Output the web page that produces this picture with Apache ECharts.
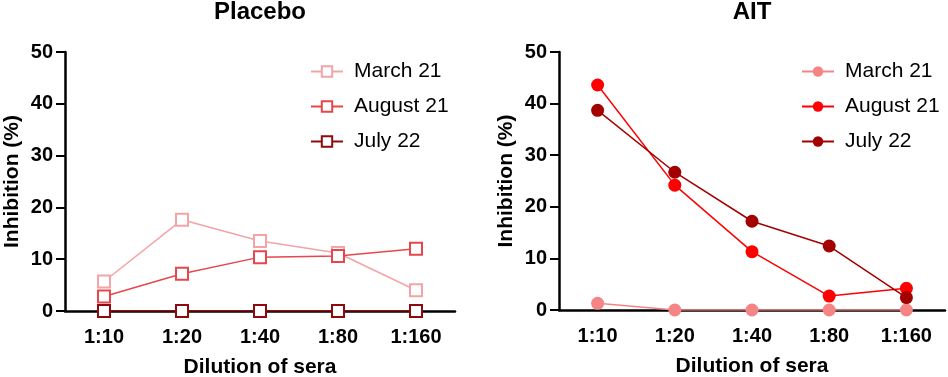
<!DOCTYPE html>
<html>
<head>
<meta charset="utf-8">
<script src="https://cdn.jsdelivr.net/npm/echarts@6/dist/echarts.min.js"></script>
<style>
  html, body { margin: 0; padding: 0; background: #fff; }
  #chart { width: 948px; height: 377px; }
</style>
</head>
<body>
<div id="chart"></div>
<script>
var dilutions = ['1:10', '1:20', '1:40', '1:80', '1:160'];
var seriesNames = ['March 21', 'August 21', 'July 22'];

var placeboMarch21 = [5.7, 17.6, 13.5, 11.2, 4.0];
var placeboAugust21 = [2.8, 7.2, 10.4, 10.6, 12.0];
var placeboJuly22 = [0, 0, 0, 0, 0];

var aitMarch21 = [1.3, 0, 0, 0, 0];
var aitAugust21 = [43.6, 24.2, 11.3, 2.7, 4.2];
var aitJuly22 = [38.7, 26.7, 17.2, 12.4, 2.4];

var placeboColors = ['#f4a3a6', '#e8464d', '#8e0a0f'];
var aitColors = ['#f58484', '#ff0000', '#a30000'];

var fontFam = 'Liberation Sans, Arial, sans-serif';

function xAx(gi) {
	return {
		gridIndex: gi,
		type: 'category',
		data: dilutions,
		boundaryGap: true,
		name: 'Dilution of sera',
		nameLocation: 'middle',
		nameGap: 46,
		nameTextStyle: { fontSize: 21, fontWeight: 'bold', color: '#000', fontFamily: fontFam },
		axisLine: { lineStyle: { color: '#000', width: 2.5 } },
		axisTick: { alignWithLabel: true, length: 9, lineStyle: { color: '#000', width: 2 } },
		axisLabel: { fontSize: 20, fontWeight: 'bold', color: '#000', margin: 16, fontFamily: fontFam },
		splitLine: { show: false }
	};
}

function yAx(gi) {
	return {
		gridIndex: gi,
		type: 'value',
		min: 0,
		max: 50,
		interval: 10,
		name: 'Inhibition (%)',
		nameLocation: 'middle',
		nameGap: 42,
		nameTextStyle: { fontSize: 21, fontWeight: 'bold', color: '#000', fontFamily: fontFam },
		axisLine: { show: true, lineStyle: { color: '#000', width: 2.5 } },
		axisTick: { show: true, length: 9, lineStyle: { color: '#000', width: 2 } },
		axisLabel: { fontSize: 20, fontWeight: 'bold', color: '#000', margin: 12, fontFamily: fontFam },
		splitLine: { show: false }
	};
}

function mkSeries(name, data, color, gi, symbol) {
	return {
		name: name,
		type: 'line',
		xAxisIndex: gi,
		yAxisIndex: gi,
		data: data,
		symbol: symbol,
		symbolSize: symbol === 'emptyRect' ? 12 : 13,
		showAllSymbol: true,
		lineStyle: { color: color, width: 1.5 },
		itemStyle: { color: color, borderColor: color, borderWidth: symbol === 'emptyRect' ? 2.4 : 0 }
	};
}

var legendText = { fontSize: 21, color: '#000', fontFamily: fontFam, padding: [0, 0, 0, 6] };

var chart = echarts.init(document.getElementById('chart'));
chart.setOption({
	animation: false,
	backgroundColor: '#fff',
	title: [
		{ text: 'Placebo', left: 260, top: 0, padding: 0, textAlign: 'center',
		  textStyle: { fontSize: 24, fontWeight: 'bold', color: '#000', fontFamily: fontFam } },
		{ text: 'AIT', left: 752, top: 0, padding: 0, textAlign: 'center',
		  textStyle: { fontSize: 24, fontWeight: 'bold', color: '#000', fontFamily: fontFam } }
	],
	legend: [
		{ left: 305, top: 56, orient: 'vertical', itemWidth: 32, itemHeight: 13, itemGap: 14,
		  data: seriesNames,
		  textStyle: legendText },
		{ left: 796, top: 56, orient: 'vertical', itemWidth: 32, itemHeight: 13, itemGap: 14,
		  data: seriesNames.map(function (n) { return 'AIT ' + n; }),
		  formatter: function (n) { return n.replace('AIT ', ''); },
		  textStyle: legendText }
	],
	grid: [
		{ left: 65, top: 52, width: 390, height: 259, outerBoundsMode: 'none', containLabel: false },
		{ left: 559, top: 52, width: 386, height: 258, outerBoundsMode: 'none', containLabel: false }
	],
	xAxis: [xAx(0), xAx(1)],
	yAxis: [yAx(0), yAx(1)],
	series: [
		mkSeries(seriesNames[0], placeboMarch21, placeboColors[0], 0, 'emptyRect'),
		mkSeries(seriesNames[1], placeboAugust21, placeboColors[1], 0, 'emptyRect'),
		mkSeries(seriesNames[2], placeboJuly22, placeboColors[2], 0, 'emptyRect'),
		mkSeries('AIT ' + seriesNames[0], aitMarch21, aitColors[0], 1, 'circle'),
		mkSeries('AIT ' + seriesNames[1], aitAugust21, aitColors[1], 1, 'circle'),
		mkSeries('AIT ' + seriesNames[2], aitJuly22, aitColors[2], 1, 'circle')
	]
});
</script>
</body>
</html>
